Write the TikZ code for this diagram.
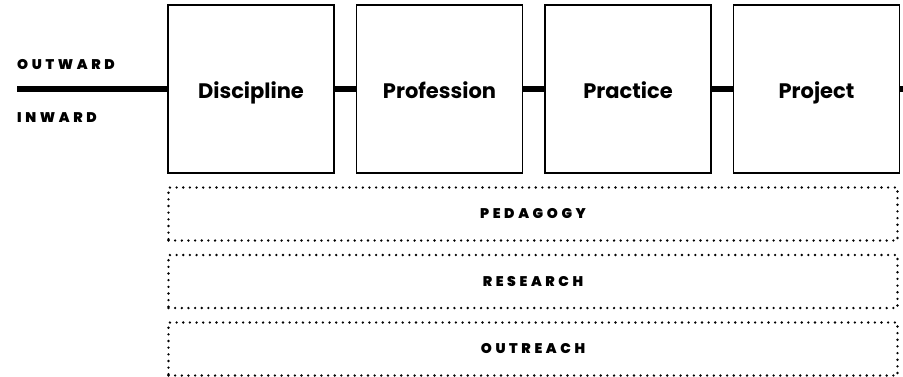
\documentclass[tikz,border=0pt]{standalone}
\usepackage{fontspec}
\setmainfont{Poppins}
\newfontfamily\heavyfont{Poppins Black}[LetterSpace=26]
\begin{document}
\begin{tikzpicture}[x=1pt,y=-1pt]
\tikzset{
  stage/.style={draw, line width=1.5pt, minimum width=166pt, minimum height=168pt,
    fill=white, inner sep=0pt, text height=20pt, text depth=2pt,
    font=\fontsize{21}{24}\selectfont\bfseries},
  band/.style={draw, line width=2.6pt, dash pattern=on 0pt off 6.65pt, line cap=round,
    minimum width=729pt, minimum height=53pt, inner sep=0pt,
    font=\fontsize{14}{16}\selectfont\heavyfont},
  tag/.style={anchor=west, inner sep=0pt,
    font=\fontsize{14}{16}\selectfont\heavyfont},
  spine/.style={line width=6pt, line cap=butt}
}
\useasboundingbox (0,0) rectangle (903,376);
\node[stage] (disc) at (251,89) {Discipline};
\node[stage] (prof) at (439.5,89) {Profession};
\node[stage] (prac) at (628,89) {Practice};
\node[stage] (proj) at (816.5,89) {Project};
\coordinate (start) at (17,89);
\coordinate (finish) at (903,89);
\draw[spine] (start) -- (disc.west);
\draw[spine] (disc.east) -- (prof.west);
\draw[spine] (prof.east) -- (prac.west);
\draw[spine] (prac.east) -- (proj.west);
\draw[spine] (proj.east) -- (finish);
\node[tag] (out) at (17,65) {OUTWARD};
\node[tag] (in) at (17,118) {INWARD};
\node[band] (ped) at (533,214) {PEDAGOGY};
\node[band] (res) at (533,281.5) {RESEARCH};
\node[band] (outr) at (533,349) {OUTREACH};
\end{tikzpicture}
\end{document}
